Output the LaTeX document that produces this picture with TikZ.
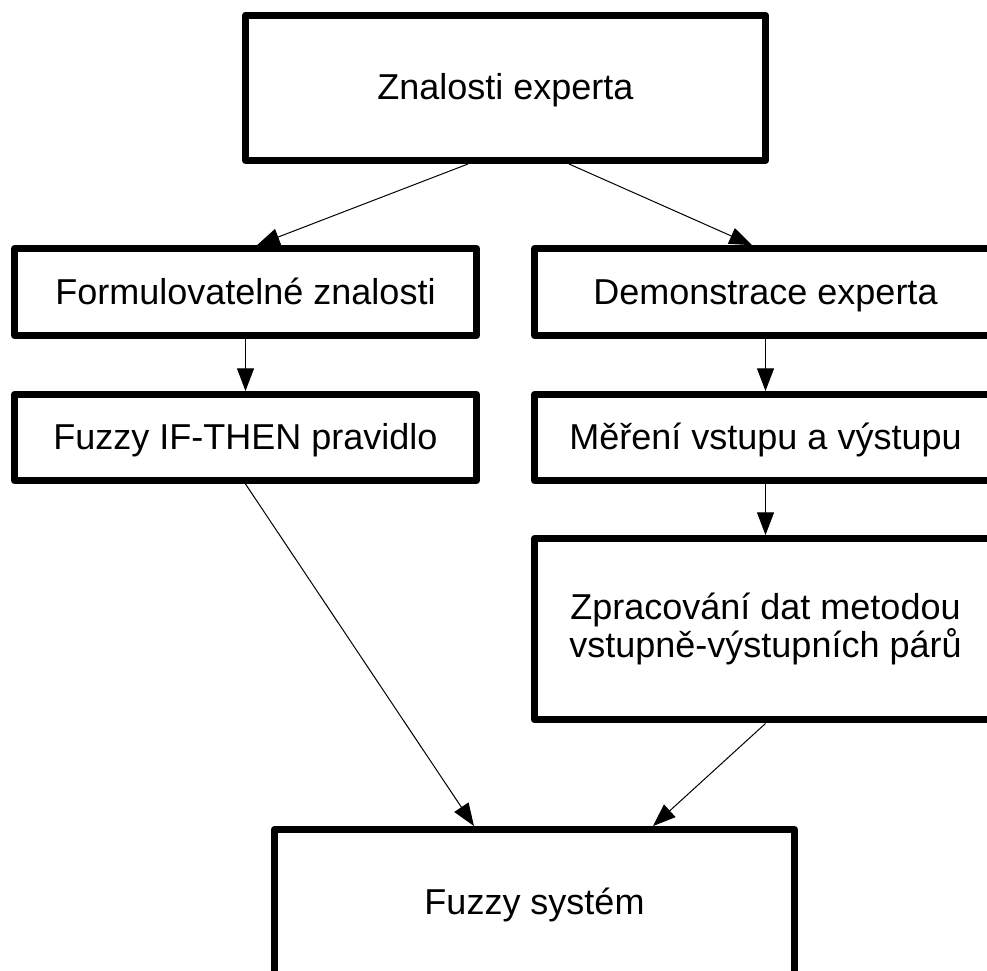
\documentclass[tikz,border=0pt]{standalone}
\usepackage{fontspec}
\setmainfont{Liberation Sans}
\usetikzlibrary{arrows.meta,calc}
\begin{document}
\begin{tikzpicture}[x=0.75pt,y=-0.75pt,
  box/.style={draw, line width=5.25pt, line join=round, rectangle, align=center,
    font=\fontsize{27}{26.5}\selectfont, inner sep=0pt},
  oneline/.style={text height=21pt, text depth=3pt},
  wide/.style={minimum width=390pt, minimum height=109.1pt},
  mid/.style={minimum width=346.5pt, minimum height=65pt},
  conn/.style={-{Triangle[length=17pt,width=12.75pt]}, line width=0.75pt}]
\useasboundingbox (0,0) rectangle (987,970);
\clip (0,0) rectangle (987,970);
\node[box, oneline, wide] (top) at (505.5,87.75) {Znalosti experta};
\node[box, oneline, mid] (form) at (245.5,292) {Formulovatelné znalosti};
\node[box, oneline, mid] (demo) at (765.5,292) {Demonstrace experta};
\node[box, oneline, mid, minimum height=64.5pt] (ifthen) at (245.5,437.5) {Fuzzy IF-THEN pravidlo};
\node[box, oneline, mid, minimum height=64.5pt] (mer) at (765.5,437.5) {Měření vstupu a výstupu};
\node[box, mid, minimum height=136.1pt] (zpr) at (765.5,629.25) {Zpracování dat metodou\\vstupně-výstupních párů};
\node[box, oneline, wide] (fs) at (534.5,902.25) {Fuzzy systém};
\draw[conn] ([xshift=-28.1pt]top.south) -- ([xshift=8.6pt]form.north);
\draw[conn] ([xshift=47.6pt]top.south) -- ([xshift=-10.1pt]demo.north);
\draw[conn] (form.south) -- (ifthen.north);
\draw[conn] (demo.south) -- (mer.north);
\draw[conn] (mer.south) -- (zpr.north);
\draw[conn] (ifthen.south) -- ([xshift=-45.4pt]fs.north);
\draw[conn] (zpr.south) -- ([xshift=88.9pt]fs.north);
\end{tikzpicture}
\end{document}
